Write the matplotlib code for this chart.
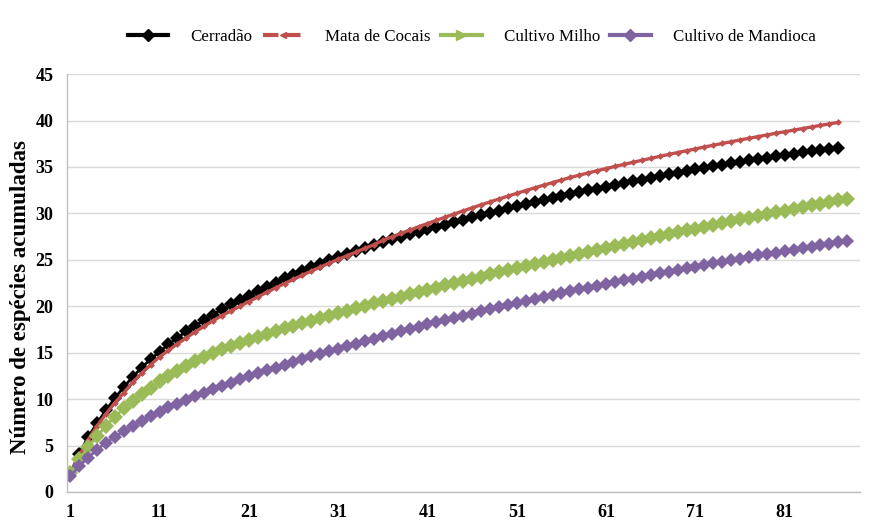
import matplotlib
matplotlib.use("Agg")
import matplotlib.pyplot as plt
from matplotlib.lines import Line2D
import numpy as np

# species accumulation values
cerradao = [2.0, 4.1, 5.9, 7.4, 8.8, 10.1, 11.3, 12.4, 13.4, 14.3,
            15.1, 15.9, 16.6, 17.3, 17.9, 18.5, 19.1, 19.7, 20.2, 20.7,
            21.15, 21.6, 22.1, 22.55, 23.0, 23.4, 23.8, 24.2, 24.6, 24.95,
            25.3, 25.65, 26.0, 26.3, 26.6, 26.9, 27.2, 27.5, 27.75, 28.0,
            28.27, 28.54, 28.8, 29.06, 29.32, 29.57, 29.82, 30.06, 30.3, 30.54,
            30.77, 31.0, 31.22, 31.44, 31.66, 31.87, 32.08, 32.28, 32.48, 32.68,
            32.88, 33.08, 33.27, 33.46, 33.65, 33.84, 34.02, 34.2, 34.38, 34.56,
            34.73, 34.9, 35.07, 35.24, 35.4, 35.56, 35.72, 35.87, 36.02, 36.17,
            36.31, 36.45, 36.59, 36.72, 36.85, 36.97, 37.05]

mata_cocais = [2.0, 3.9, 5.6, 7.1, 8.4, 9.6, 10.7, 11.8, 12.8, 13.7,
               14.55, 15.25, 15.95, 16.6, 17.25, 17.85, 18.45, 19.0, 19.5, 20.0,
               20.5, 21.0, 21.5, 21.98, 22.45, 22.9, 23.35, 23.8, 24.22, 24.64,
               25.05, 25.45, 25.85, 26.24, 26.62, 27.1, 27.47, 27.84, 28.2, 28.56,
               28.91, 29.26, 29.6, 29.94, 30.27, 30.6, 30.92, 31.24, 31.55, 31.86,
               32.16, 32.46, 32.75, 33.04, 33.32, 33.6, 33.87, 34.12, 34.36, 34.6,
               34.83, 35.06, 35.28, 35.5, 35.72, 35.93, 36.14, 36.35, 36.55, 36.75,
               36.95, 37.15, 37.34, 37.53, 37.72, 37.91, 38.09, 38.27, 38.45, 38.63,
               38.8, 38.97, 39.14, 39.31, 39.48, 39.64, 39.8]

cultivo_milho = [2.0, 3.5, 4.8, 6.0, 7.1, 8.1, 9.0, 9.8, 10.55, 11.25,
                 11.9, 12.5, 13.05, 13.57, 14.06, 14.52, 14.95, 15.35, 15.72, 16.07,
                 16.4, 16.72, 17.03, 17.33, 17.62, 17.9, 18.18, 18.46, 18.73, 19.0,
                 19.27, 19.53, 19.79, 20.05, 20.3, 20.55, 20.8, 21.05, 21.3, 21.54,
                 21.78, 22.02, 22.26, 22.5, 22.74, 22.97, 23.2, 23.43, 23.66, 23.89,
                 24.12, 24.35, 24.57, 24.79, 25.01, 25.23, 25.45, 25.67, 25.89, 26.1,
                 26.31, 26.52, 26.73, 26.94, 27.15, 27.36, 27.56, 27.76, 27.96, 28.16,
                 28.36, 28.56, 28.76, 28.96, 29.16, 29.35, 29.54, 29.73, 29.92, 30.11,
                 30.3, 30.49, 30.68, 30.87, 31.05, 31.23, 31.41, 31.59]

cultivo_mandioca = [1.7, 2.75, 3.7, 4.55, 5.3, 5.95, 6.55, 7.1, 7.65, 8.15,
                    8.65, 9.1, 9.52, 9.93, 10.32, 10.7, 11.07, 11.43, 11.78, 12.12,
                    12.45, 12.77, 13.09, 13.4, 13.71, 14.01, 14.31, 14.6, 14.89, 15.17,
                    15.45, 15.72, 15.99, 16.26, 16.52, 16.78, 17.04, 17.29, 17.54, 17.79,
                    18.04, 18.28, 18.52, 18.76, 18.99, 19.22, 19.45, 19.68, 19.9, 20.12,
                    20.34, 20.56, 20.77, 20.98, 21.19, 21.4, 21.61, 21.81, 22.01, 22.21,
                    22.41, 22.6, 22.79, 22.98, 23.17, 23.36, 23.55, 23.73, 23.91, 24.09,
                    24.27, 24.45, 24.62, 24.79, 24.96, 25.13, 25.3, 25.47, 25.63, 25.79,
                    25.95, 26.11, 26.27, 26.43, 26.58, 26.73, 26.88, 27.03]

series_names = ["Cerradão", "Mata de Cocais", "Cultivo Milho", "Cultivo de Mandioca"]
x_ticks = [1, 11, 21, 31, 41, 51, 61, 71, 81]
y_ticks = [0, 5, 10, 15, 20, 25, 30, 35, 40, 45]

plt.rcParams["font.family"] = ["Liberation Serif", "DejaVu Serif"]

fig = plt.figure(figsize=(8.72, 5.22), dpi=100)
ax = fig.add_axes([0.077, 0.0575, 0.909, 0.8005])

styles = [
    dict(color="black", marker="D", markersize=7.5, linewidth=2),
    dict(color="#c0504d", marker="D", markersize=3.5, linewidth=2.4),
    dict(color="#9bbb59", marker="D", markersize=8, linewidth=2),
    dict(color="#8064a2", marker="D", markersize=7.5, linewidth=2),
]

for values, style in zip([cerradao, mata_cocais, cultivo_milho, cultivo_mandioca], styles):
    x = np.arange(1, len(values) + 1)
    ax.plot(x, values, markeredgewidth=0, **style)

ax.set_xlim(0.66, 89.4)
ax.set_ylim(0, 45)
ax.set_yticks(y_ticks)
ax.set_xticks(x_ticks)
ax.tick_params(axis="both", length=0, labelsize=13)
ax.tick_params(axis="x", pad=9)
ax.tick_params(axis="y", pad=10)
for label in ax.get_xticklabels() + ax.get_yticklabels():
    label.set_fontweight("bold")

ax.grid(axis="y", color="#d9d9d9", linewidth=1)
ax.set_axisbelow(True)
for side in ["top", "right"]:
    ax.spines[side].set_visible(False)
for side in ["left", "bottom"]:
    ax.spines[side].set_color("#bfbfbf")
    ax.spines[side].set_linewidth(1)

ax.set_ylabel("Número de espécies acumuladas", fontsize=16.5, fontweight="bold")
ax.yaxis.set_label_coords(-0.046, 0.467)

handles = [
    Line2D([], [], color="black", linewidth=3, marker="D", markersize=6, markevery=[1]),
    Line2D([], [], color="#c0504d", linewidth=3, linestyle="--", marker="<", markersize=5, markevery=[0]),
    Line2D([], [], color="#9bbb59", linewidth=3, marker=">", markersize=7, markevery=[1]),
    Line2D([], [], color="#8064a2", linewidth=3, marker="D", markersize=6, markevery=[1]),
]
fig.legend(handles, series_names, loc="center", bbox_to_anchor=(0.541, 0.929), ncol=4,
           frameon=False, fontsize=12.2, handlelength=2.4, columnspacing=0.6, handletextpad=1.3)

fig.savefig("out.png", dpi=100)
plt.close(fig)
